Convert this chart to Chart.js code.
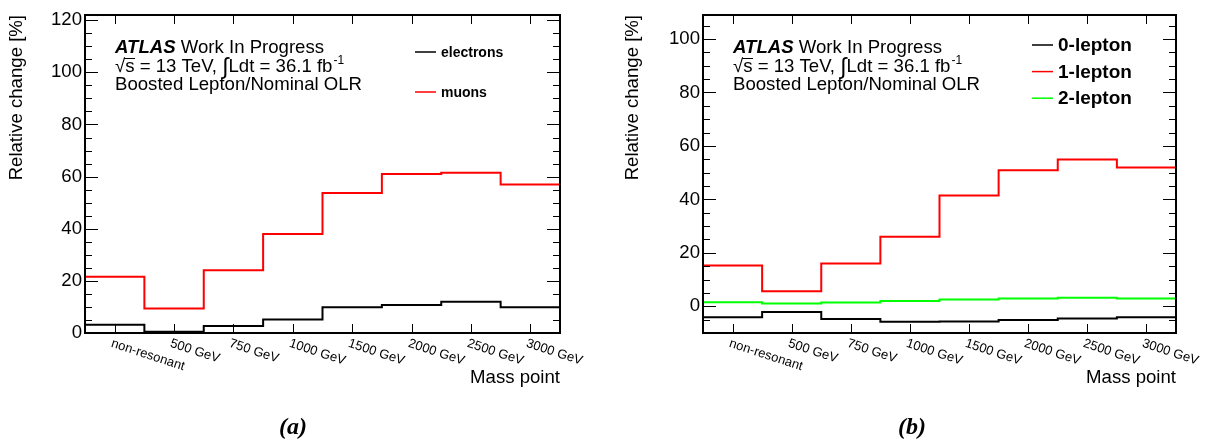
<!DOCTYPE html>
<html>
<head>
<meta charset="utf-8">
<script src="https://cdn.jsdelivr.net/npm/chart.js@4.4.1/dist/chart.umd.min.js"></script>
<style>
  body { margin: 0; background: #fff; }
  .wrap { display: flex; width: 1206px; height: 441px; }
  .panel { width: 603px; height: 441px; }
</style>
</head>
<body>
<div class="wrap">
  <div class="panel"><canvas id="chartA" width="603" height="441"></canvas></div>
  <div class="panel"><canvas id="chartB" width="603" height="441"></canvas></div>
</div>
<script>
// x categories (one bin each)
const massPoints = ['non-resonant', '500 GeV', '750 GeV', '1000 GeV', '1500 GeV', '2000 GeV', '2500 GeV', '3000 GeV'];

// panel (a): relative change [%] per lepton flavour
const electrons = [3.2, 0.5, 2.7, 5.2, 9.9, 10.7, 12.0, 9.9];
const muons = [21.6, 9.4, 24.1, 38.0, 53.7, 61.0, 61.5, 57.0];

// panel (b): relative change [%] per lepton channel
const lep0 = [-4.1, -2.1, -4.8, -5.8, -5.7, -5.1, -4.6, -4.1];
const lep1 = [15.3, 5.6, 16.0, 26.0, 41.5, 50.9, 54.9, 51.9];
const lep2 = [1.5, 1.0, 1.4, 2.0, 2.5, 2.9, 3.2, 2.9];

const SANS = '"Liberation Sans", Arial, Helvetica, sans-serif';
const SERIF = '"Liberation Serif", "DejaVu Serif", serif';

// histogram: each bin value holds from i to i+1
function toSteps(vals) {
  const pts = vals.map((v, i) => ({ x: i, y: v }));
  pts.push({ x: vals.length, y: vals[vals.length - 1] });
  return pts;
}

// ROOT-like frame, inward ticks, slanted bin labels, text and legend
const rootStyle = {
  id: 'rootStyle',
  afterDraw(chart, args, o) {
    const { ctx, chartArea: a, scales: { x, y } } = chart;
    ctx.save();

    // y ticks, both sides
    ctx.strokeStyle = '#000';
    ctx.lineWidth = 1;
    for (let v = Math.ceil(y.min / 5) * 5; v <= y.max; v += 5) {
      const py = Math.round(y.getPixelForValue(v)) + 0.5;
      const len = v % 20 === 0 ? 13 : 7;
      ctx.beginPath();
      ctx.moveTo(a.left, py); ctx.lineTo(a.left + len, py);
      ctx.moveTo(a.right, py); ctx.lineTo(a.right - len, py);
      ctx.stroke();
    }

    // x ticks at bin centres + labels
    ctx.fillStyle = '#000';
    ctx.font = '13px ' + SANS;
    ctx.textAlign = 'left';
    ctx.textBaseline = 'top';
    massPoints.forEach((lab, i) => {
      const px = Math.round(x.getPixelForValue(i + 0.5)) + 0.5;
      ctx.beginPath();
      ctx.moveTo(px, a.bottom); ctx.lineTo(px, a.bottom - 9);
      ctx.moveTo(px, a.top); ctx.lineTo(px, a.top + 9);
      ctx.stroke();
      ctx.save();
      ctx.translate(px - 2, a.bottom + 4);
      ctx.rotate(18 * Math.PI / 180);
      ctx.fillText(lab, 0, 0);
      ctx.restore();
    });

    // frame
    ctx.lineWidth = 2;
    ctx.strokeRect(a.left, a.top, a.right - a.left, a.bottom - a.top);

    // ATLAS label
    const tx = a.left + 30;
    const F = '18.6px ' + SANS;
    ctx.textBaseline = 'alphabetic';
    ctx.font = 'italic bold 18.6px ' + SANS;
    ctx.fillText('ATLAS', tx, 53);
    const w = ctx.measureText('ATLAS ').width;
    ctx.font = F;
    ctx.fillText('Work In Progress', tx + w, 53);

    // second line: sqrt(s) with overbar, integral, superscript
    let cx = tx;
    ctx.fillText('\u221A', cx, 72);
    cx += ctx.measureText('\u221A').width;
    const ws = ctx.measureText('s').width;
    ctx.fillText('s', cx, 72);
    ctx.lineWidth = 1;
    ctx.beginPath();
    ctx.moveTo(cx - 1, 58.5); ctx.lineTo(cx + ws + 0.5, 58.5);
    ctx.stroke();
    cx += ws;
    const p1 = ' = 13 TeV, ';
    ctx.fillText(p1, cx, 72);
    cx += ctx.measureText(p1).width;
    ctx.font = '23px ' + SANS;
    ctx.fillText('\u222B', cx, 74);
    cx += ctx.measureText('\u222B').width;
    ctx.font = F;
    const p2 = 'Ldt = 36.1 fb';
    ctx.fillText(p2, cx, 72);
    cx += ctx.measureText(p2).width;
    ctx.font = '12px ' + SANS;
    ctx.fillText('-1', cx + 1, 64);
    ctx.font = F;
    ctx.fillText('Boosted Lepton/Nominal OLR', tx, 90);

    // legend
    const lg = o.legend;
    ctx.font = 'bold ' + lg.size + 'px ' + SANS;
    ctx.textBaseline = 'middle';
    lg.items.forEach((it, i) => {
      const ly = lg.y + i * lg.dy;
      ctx.strokeStyle = it.color;
      ctx.lineWidth = 1.5;
      ctx.beginPath();
      ctx.moveTo(lg.x, ly); ctx.lineTo(lg.x + 21, ly);
      ctx.stroke();
      ctx.fillStyle = '#000';
      ctx.fillText(it.label, lg.x + 26, ly + 1);
    });

    // caption
    ctx.font = 'italic bold 24px ' + SERIF;
    ctx.textAlign = 'center';
    ctx.textBaseline = 'alphabetic';
    ctx.fillText(o.caption.text, o.caption.x, 434);
    ctx.restore();
  }
};

function makePanel(id, sets, p) {
  return new Chart(document.getElementById(id), {
    type: 'line',
    data: {
      datasets: sets.map(s => ({
        label: s.label,
        data: toSteps(s.values),
        borderColor: s.color,
        borderWidth: 2,
        stepped: 'before',
        pointRadius: 0,
        fill: false
      }))
    },
    options: {
      responsive: false,
      animation: false,
      layout: { padding: { top: 15, right: p.padRight, left: 0, bottom: 0 } },
      scales: {
        x: {
          type: 'linear',
          min: 0,
          max: massPoints.length,
          grid: { display: false },
          border: { display: false },
          ticks: { display: false },
          title: {
            display: true, text: 'Mass point', align: 'end',
            color: '#000', font: { family: SANS, size: 18.6 },
            padding: { top: 4, bottom: 52 }
          },
          afterFit: s => { s.height = 108; }
        },
        y: {
          min: p.yMin,
          max: p.yMax,
          grid: { display: false, drawTicks: false },
          border: { display: false },
          ticks: {
            stepSize: 20, includeBounds: false, padding: 3,
            color: '#000', font: { family: SANS, size: 18.6 }
          },
          title: {
            display: true, text: 'Relative change [%]', align: 'end',
            color: '#000', font: { family: SANS, size: 18.6 },
            padding: { top: p.titlePad, bottom: 4 }
          },
          afterFit: s => { s.width = p.yWidth; }
        }
      },
      plugins: {
        legend: { display: false },
        tooltip: { enabled: false },
        rootStyle: { legend: p.legend, caption: p.caption }
      }
    },
    plugins: [rootStyle]
  });
}

makePanel('chartA', [
  { label: 'electrons', values: electrons, color: '#000000' },
  { label: 'muons', values: muons, color: '#ff0000' }
], {
  yMin: 0, yMax: 122, yWidth: 85, padRight: 43, titlePad: 6,
  legend: { x: 415, y: 52, dy: 40, size: 14, items: [
    { label: 'electrons', color: '#000000' },
    { label: 'muons', color: '#ff0000' }
  ] },
  caption: { text: '(a)', x: 293 }
});

makePanel('chartB', [
  { label: '2-lepton', values: lep2, color: '#00ff00' },
  { label: '1-lepton', values: lep1, color: '#ff0000' },
  { label: '0-lepton', values: lep0, color: '#000000' }
], {
  yMin: -10, yMax: 109, yWidth: 100, padRight: 30, titlePad: 19,
  legend: { x: 429, y: 45, dy: 26.6, size: 19, items: [
    { label: '0-lepton', color: '#000000' },
    { label: '1-lepton', color: '#ff0000' },
    { label: '2-lepton', color: '#00ff00' }
  ] },
  caption: { text: '(b)', x: 309 }
});
</script>
</body>
</html>
